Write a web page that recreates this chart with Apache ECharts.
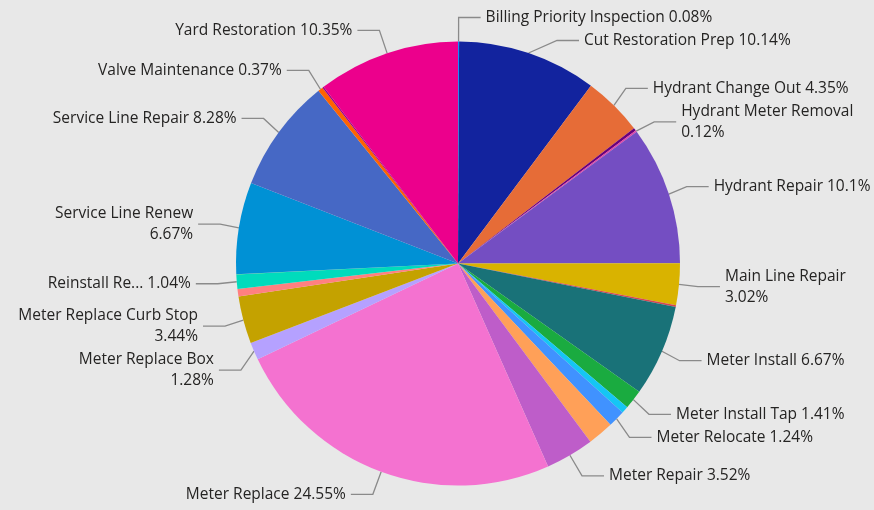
<!DOCTYPE html>
<html>
<head>
<meta charset="utf-8">
<script src="https://cdn.jsdelivr.net/npm/echarts@6/dist/echarts.min.js"></script>
<style>
html,body{margin:0;padding:0;background:#e8e8e8;}
#c{width:874px;height:510px;}
</style>
</head>
<body>
<div id="c"></div>
<script>
const categories = [
  "Billing Priority Inspection", "Cut Restoration Prep", "Hydrant Change Out", "Hydrant Inspection",
  "Hydrant Meter Removal", "Hydrant Repair", "Main Line Repair", "Main Line Replace",
  "Meter Install", "Meter Install Tap", "Meter Investigation", "Meter Relocate",
  "Meter Removal", "Meter Repair", "Meter Replace", "Meter Replace Box",
  "Meter Replace Curb Stop", "Meter Test", "Reinstall Register", "Service Line Inspection",
  "Service Line Renew", "Service Line Repair", "Valve Maintenance", "Valve Repair",
  "Yard Restoration"
];
const percents = [
  0.08, 10.14, 4.35, 0.2,
  0.12, 10.1, 3.02, 0.12,
  6.67, 1.41, 0.5, 1.24,
  1.88, 3.52, 24.55, 1.28,
  3.44, 0.55, 1.04, 0.02,
  6.67, 8.28, 0.37, 0.1,
  10.35
];
const colors = [
  "#118DFF", "#12239E", "#E66C37", "#6B007B",
  "#E044A7", "#744EC2", "#D9B300", "#D64550",
  "#197278", "#1AAB40", "#15C6F4", "#4092FF",
  "#FFA058", "#BE5DC9", "#F472D0", "#B5A1FF",
  "#C4A200", "#FF8080", "#00DBBC", "#5BD667",
  "#0091D5", "#4668C5", "#FF6300", "#99008A",
  "#EC008C"
];
// label display: 1 = one line, 2 = name / percent on two lines, 0 = hidden, 3 = truncated
const labelModes = [
  1, 1, 1, 0,
  2, 1, 2, 0,
  1, 1, 0, 1,
  0, 1, 1, 2,
  2, 0, 3, 0,
  2, 1, 1, 0,
  1
];

const data = categories.map((n, i) => {
  const m = labelModes[i];
  const item = { name: n, value: percents[i], itemStyle: { color: colors[i] } };
  if (m === 0) {
    item.label = { show: false };
    item.labelLine = { show: false };
  }
  return item;
});

const chart = echarts.init(document.getElementById('c'));
chart.setOption({
  backgroundColor: '#e8e8e8',
  animation: false,
  series: [{
    type: 'pie',
    center: [458, 263.5],
    radius: 222,
    startAngle: 90,
    clockwise: true,
    data: data,
    label: {
      color: '#252423',
      fontFamily: "'Segoe UI', 'Open Sans', sans-serif",
      fontSize: 15.5,
      lineHeight: 21,
      overflow: 'none',
      formatter: p => {
        const m = labelModes[p.dataIndex];
        if (m === 2) return p.name + '\n' + p.value + '%';
        if (m === 3) return p.name.slice(0, 12) + '... ' + p.value + '%';
        return p.name + ' ' + p.value + '%';
      }
    },
    labelLine: {
      length: 24,
      length2: 22,
      lineStyle: { color: '#8a8a8a', width: 1.3 }
    }
  }]
});
</script>
</body>
</html>
